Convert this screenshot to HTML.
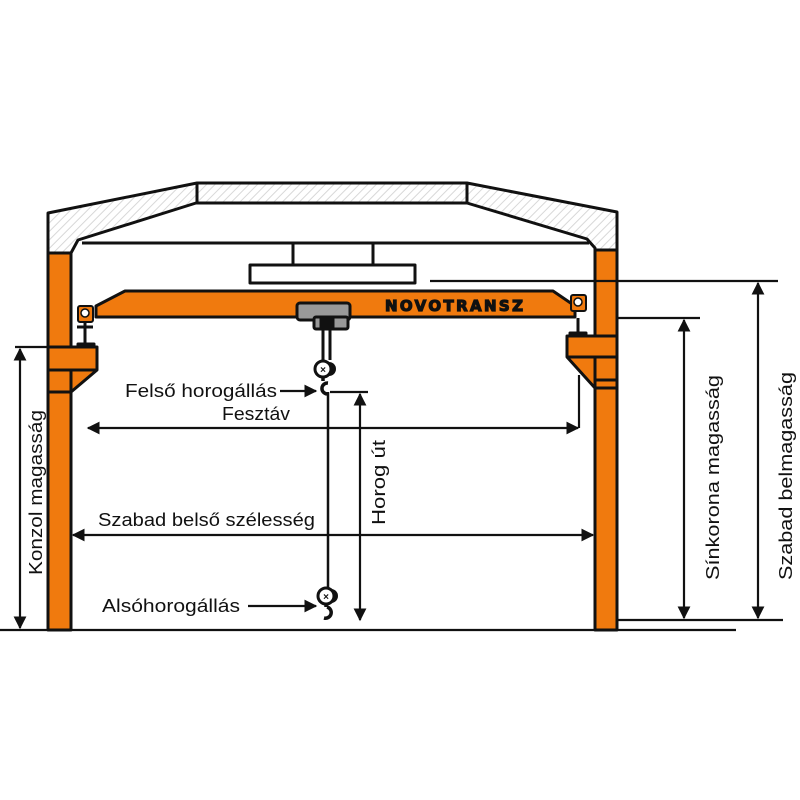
<!DOCTYPE html>
<html><head><meta charset="utf-8"><style>
html,body{margin:0;padding:0;background:#fff;width:800px;height:800px;overflow:hidden}
svg{display:block}
text{font-family:"Liberation Sans","DejaVu Sans",sans-serif;fill:#111}
</style></head><body>
<svg width="800" height="800" viewBox="0 0 800 800" xmlns="http://www.w3.org/2000/svg">
<defs>
<pattern id="h" width="6" height="6" patternUnits="userSpaceOnUse" patternTransform="rotate(45)">
<rect width="6" height="6" fill="#fff"/><line x1="0" y1="0" x2="0" y2="6" stroke="#d8d8d8" stroke-width="2"/>
</pattern>
<marker id="b" viewBox="0 0 10 10" refX="9" refY="5" markerWidth="13" markerHeight="13" orient="auto-start-reverse" markerUnits="userSpaceOnUse">
<path d="M0,0 L10,5 L0,10 z" fill="#111"/></marker>
</defs>
<g stroke="#111" stroke-width="3" stroke-linejoin="round">
<path d="M48,253 L48,213 L197,183 L467,183 L617,212 L617,250 L595,250 L595,248 L587,239 L467,203 L196,203 L78,240 L71,253 Z" fill="url(#h)"/>
<line x1="197" y1="183" x2="197" y2="203"/>
<line x1="467" y1="183" x2="467" y2="203"/>
<rect x="48" y="253" width="23" height="377" fill="#f07a0e"/>
<rect x="595" y="250" width="22" height="380" fill="#f07a0e"/>
<line x1="82" y1="243" x2="589" y2="243"/>
<line x1="293" y1="243" x2="293" y2="265"/>
<line x1="373" y1="243" x2="373" y2="265"/>
<rect x="250" y="265" width="165" height="18" fill="#fff"/>
<path d="M48,347 L97,347 L97,370 L71,392 L48,392 Z" fill="#f07a0e"/>
<line x1="48" y1="370" x2="97" y2="370"/>
<line x1="71" y1="370" x2="71" y2="392"/>
<path d="M617,336 L567,336 L567,357 L595,388 L617,388 Z" fill="#f07a0e"/>
<line x1="567" y1="357" x2="617" y2="357"/>
<line x1="595" y1="357" x2="595" y2="388"/>
<line x1="595" y1="380" x2="617" y2="380"/>
<line x1="85" y1="318" x2="85" y2="345"/>
<line x1="77" y1="327" x2="93" y2="327"/>
<rect x="78" y="344" width="16" height="3" fill="#111"/>
<line x1="578" y1="318" x2="578" y2="334"/>
<rect x="570" y="333" width="16" height="3" fill="#111"/>
<path d="M96,306 L125,291 L553,291 L575,306 L575,317 L96,317 Z" fill="#f07a0e"/>
<rect x="78" y="306" width="15" height="16" rx="2" fill="#f07a0e" stroke-width="2"/>
<circle cx="85" cy="313" r="4" fill="#fff" stroke-width="1.5"/>
<rect x="571" y="295" width="15" height="16" rx="2" fill="#f07a0e" stroke-width="2"/>
<circle cx="578" cy="302" r="4" fill="#fff" stroke-width="1.5"/>
<rect x="297" y="303" width="53" height="17" rx="3" fill="#999"/>
<rect x="314" y="317" width="34" height="12" rx="2" fill="#999"/>
<rect x="321" y="318" width="12" height="11" fill="#111"/>
<line x1="323" y1="329" x2="323" y2="360"/>
<line x1="330" y1="329" x2="330" y2="360"/>
</g>
<text x="455" y="311" text-anchor="middle" font-size="15" font-weight="900" letter-spacing="2" stroke="#111" stroke-width="1.2" textLength="140" style="font-family:'DejaVu Sans','Liberation Sans',sans-serif">NOVOTRANSZ</text>
<g stroke="#111" fill="none">
<circle cx="329" cy="369" r="7" fill="#111" stroke="none"/>
<circle cx="323" cy="369" r="8" fill="#fff" stroke-width="3"/>
<path d="M323,377 L323,381 M328,383 A5.5,5.5 0 1 0 327,394" stroke-width="3.5"/>
<line x1="328" y1="392" x2="328" y2="588" stroke-width="2.5"/>
<circle cx="331" cy="596" r="7" fill="#111" stroke="none"/>
<circle cx="326" cy="596" r="8" fill="#fff" stroke-width="3"/>
<path d="M326,604 L326,607 M327,607 A5.5,5.5 0 1 1 324,618" stroke-width="3.5"/>
</g>
<text x="323" y="373" text-anchor="middle" font-size="10" font-weight="bold">×</text>
<text x="326" y="600" text-anchor="middle" font-size="10" font-weight="bold">×</text>
<g stroke="#111" stroke-width="2.2" fill="none">
<line x1="0" y1="630" x2="736" y2="630"/>
<line x1="617" y1="620" x2="783" y2="620"/>
<line x1="430" y1="281" x2="778" y2="281"/>
<line x1="617" y1="318" x2="700" y2="318"/>
<line x1="15" y1="347" x2="48" y2="347"/>
<line x1="758" y1="283" x2="758" y2="618" marker-start="url(#b)" marker-end="url(#b)"/>
<line x1="684" y1="320" x2="684" y2="618" marker-start="url(#b)" marker-end="url(#b)"/>
<line x1="20" y1="349" x2="20" y2="628" marker-start="url(#b)" marker-end="url(#b)"/>
<line x1="330" y1="392" x2="368" y2="392"/>
<line x1="360" y1="394" x2="360" y2="620" marker-start="url(#b)" marker-end="url(#b)"/>
<line x1="88" y1="428" x2="578" y2="428" marker-start="url(#b)" marker-end="url(#b)"/>
<line x1="579" y1="428" x2="579" y2="375"/>
<line x1="73" y1="535" x2="593" y2="535" marker-start="url(#b)" marker-end="url(#b)"/>
<line x1="280" y1="391" x2="316" y2="391" marker-end="url(#b)"/>
<line x1="248" y1="606" x2="316" y2="606" marker-end="url(#b)"/>
</g>
<g font-size="18">
<text x="125" y="397" textLength="152" lengthAdjust="spacingAndGlyphs">Felső horogállás</text>
<text x="222" y="420" textLength="68" lengthAdjust="spacingAndGlyphs">Fesztáv</text>
<text x="98" y="526" textLength="217" lengthAdjust="spacingAndGlyphs">Szabad belső szélesség</text>
<text x="102" y="612" textLength="138" lengthAdjust="spacingAndGlyphs">Alsóhorogállás</text>
<text transform="translate(42,575) rotate(-90)" textLength="165" lengthAdjust="spacingAndGlyphs">Konzol magasság</text>
<text transform="translate(385,525) rotate(-90)" textLength="85" lengthAdjust="spacingAndGlyphs">Horog út</text>
<text transform="translate(719,580) rotate(-90)" textLength="205" lengthAdjust="spacingAndGlyphs">Sínkorona magasság</text>
<text transform="translate(792,580) rotate(-90)" textLength="208" lengthAdjust="spacingAndGlyphs">Szabad belmagasság</text>
</g>
</svg>
</body></html>
